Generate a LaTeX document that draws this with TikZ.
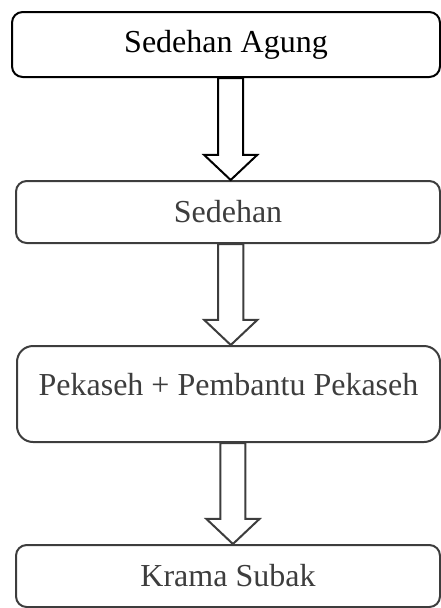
\documentclass[tikz,border=0pt]{standalone}
\usepackage{fontspec}
\setmainfont{Liberation Serif}
\usetikzlibrary{calc}

\colorlet{lowgray}{black!76}

\tikzset{
  box/.style={draw, line width=1.5pt, inner sep=0pt, rounded corners=8pt,
    font=\fontsize{24}{28}\selectfont},
  hollowarrow/.style={draw, line width=1.5pt, fill=white, line join=miter}
}

% hollow block arrow from the south of #2 to the north of #3, shifted by #1 pt
\newcommand\blockarrow[3][0]{%
  \path[hollowarrow] let \p1=(#2.south), \p2=(#3.north) in
    (\x2+#1pt-9.4pt,\y1) -- (\x2+#1pt+9.4pt,\y1)
    -- (\x2+#1pt+9.4pt,\y2+18.8pt) -- (\x2+#1pt+19.9pt,\y2+18.8pt)
    -- (\x2+#1pt,\y2)
    -- (\x2+#1pt-19.9pt,\y2+18.8pt) -- (\x2+#1pt-9.4pt,\y2+18.8pt) -- cycle;}

\begin{document}
\begin{tikzpicture}[x=0.75pt,y=-0.75pt]

\useasboundingbox (0,0) rectangle (441,608);

% draw boxes
\node[box, minimum width=321pt, minimum height=48.75pt] (agung) at (226,44.5) {Sedehan Agung};
\node[box, draw=lowgray, text=lowgray, minimum width=318pt, minimum height=46.5pt] (sedehan) at (228,212) {Sedehan};
\node[box, draw=lowgray, text=lowgray, rounded corners=12pt, minimum width=317.25pt, minimum height=72pt, text depth=15pt] (pekaseh) at (228.5,394) {Pekaseh + Pembantu Pekaseh};
\node[box, draw=lowgray, text=lowgray, minimum width=318pt, minimum height=46.5pt] (krama) at (228,576) {Krama Subak};

% draw arrows
\blockarrow[2]{agung}{sedehan}
\begin{scope}[lowgray]
\blockarrow[1.7]{sedehan}{pekaseh}
\blockarrow[3.7]{pekaseh}{krama}
\end{scope}

\end{tikzpicture}
\end{document}
